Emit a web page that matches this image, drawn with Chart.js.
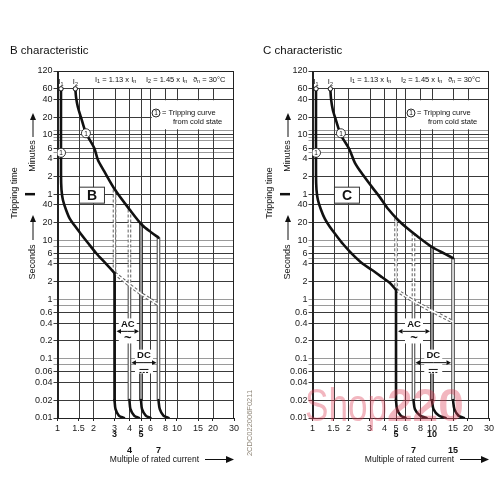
<!DOCTYPE html>
<html><head><meta charset="utf-8">
<script src="https://cdn.jsdelivr.net/npm/chart.js@4"></script>
<style>
html,body{margin:0;padding:0;background:#fff;width:500px;height:500px;overflow:hidden}
canvas{position:absolute;top:0}
#cb{left:0}
#cc{left:255px}
</style></head><body>
<canvas id="cb" width="255" height="500"></canvas>
<canvas id="cc" width="245" height="500"></canvas>
<script>
const FONT = '"Liberation Sans", Arial, Helvetica, sans-serif';

// ---- axes ----
const xTickValues = [1,1.5,2,3,4,5,6,8,10,15,20,30];
const xTickLabels = ['1','1.5','2','3','4','5','6','8','10','15','20','30'];
const xGridValues = [1.5,2,3,4,5,6,8,10,15,20];
// tripping time in seconds (minute ticks = minutes x 60)
const yTickValues = [7200,3600,2400,1200,720,600,540,480,360,300,240,120,60,40,20,10,8,6,5,4,2,1,0.8,0.6,0.4,0.2,0.1,0.08,0.06,0.04,0.02,0.01];
const yTickLabels = ['120','60','40','20','','10','','','6','','4','2','1','40','20','10','','6','','4','2','1','','0.6','0.4','0.2','0.1','','0.06','0.04','0.02','0.01'];
const yLightLines = [720,540,480,300,10,8,5,1,0.8,0.1,0.08];

// ---- B characteristic ----
const bLowerLimit = [[1.07,3600],[1.07,126],[1.08,71],[1.11,48],[1.18,32.5],[1.27,22.9],[1.4,17.4],[1.57,12.8],[1.8,9.0],[2.1,6.1],[2.55,4.0],[3,2.8]];
const bUpperLimit = [[1.41,3600],[1.43,2600],[1.48,1780],[1.57,1200],[1.73,650],[2.03,360],[2.18,226],[2.45,148],[3.03,71],[4.04,32.4],[5.1,18.1],[6.18,13.3],[7,11.1]];
const bAcLowDashed = [[3,72],[3,2.8]];
const bAcLowSolid = [[3,2.8],[3,0.02]];
const bDcLowDashed = [[4,33],[4,1.75]];
const bDcLowSolid = [[4,1.75],[4,0.02]];
const bAcHighSolid = [[5,19.4],[5,0.02]];
const bDcHighSolid = [[7,11.1],[7,0.02]];
const bInstantDashed = [[3,2.8],[4,1.75],[5,1.25],[7,0.82]];
const bFeet = [
  [[3,0.02],[3.06,0.0141],[3.26,0.011],[3.6,0.01]],
  [[4,0.02],[4.08,0.0141],[4.38,0.011],[4.8,0.01]],
  [[5,0.02],[5.1,0.0141],[5.48,0.011],[6,0.01]],
  [[7,0.02],[7.18,0.0141],[7.7,0.011],[8.5,0.01]]
];
const bAcRange = [3,5];
const bDcRange = [4,7];

// ---- C characteristic ----
const cLowerLimit = [[1.07,3600],[1.07,126],[1.08,71],[1.11,48],[1.18,32.5],[1.27,22.9],[1.4,16.7],[1.57,12.3],[1.8,8.65],[2.14,5.9],[2.6,4.1],[3.15,3.15],[3.8,2.4],[4.45,1.9],[5,1.45]];
const cUpperLimit = [[1.41,3600],[1.43,2420],[1.48,1580],[1.57,1070],[1.73,600],[2.03,347],[2.27,201],[2.65,126],[3.15,79],[3.67,53],[4.3,33.7],[5.2,22],[6.18,16.1],[7.5,11.8],[10,7.7],[12.85,5.9],[15,5]];
const cAcLowDashed = [[5,23.5],[5,1.45]];
const cAcLowSolid = [[5,1.45],[5,0.02]];
const cDcLowDashed = [[7,13.2],[7,0.94]];
const cDcLowSolid = [[7,0.94],[7,0.02]];
const cAcHighSolid = [[10,7.7],[10,0.02]];
const cDcHighSolid = [[15,5],[15,0.02]];
const cInstantDashed = [[5,1.45],[7,0.94],[10,0.64],[15,0.42]];
const cFeet = [
  [[5,0.02],[5.1,0.0141],[5.48,0.011],[6,0.01]],
  [[7,0.02],[7.2,0.0141],[7.94,0.011],[9,0.01]],
  [[10,0.02],[10.3,0.0141],[11.4,0.011],[13,0.01]],
  [[15,0.02],[15.4,0.0141],[16.6,0.011],[18.5,0.01]]
];
const cAcRange = [5,10];
const cDcRange = [7,15];

const curveStarts = [[1.07,3600],[1.41,3600]];
const coldStateMarks = [[1.07,300],[1.73,640]];

// ---- helpers ----
function pts(a){ return a.map(p => ({x:p[0], y:p[1]})); }
function line(a, o){ return Object.assign({data:pts(a), showLine:true, pointRadius:0, pointHoverRadius:0, fill:false, tension:0, borderCapStyle:'butt'}, o); }
function thick(a){ return line(a, {borderColor:'#111', borderWidth:2.6, tension:0.3, order:1, borderCapStyle:'round', borderJoinStyle:'round'}); }
function twin(a, kind){
  const o = {dash:{c:'#666',w:3.6,d:[3,2],i:1.5}, solid:{c:'#444',w:3.6,d:[],i:1.5}, dark:{c:'#111',w:3.6,d:[],i:1.1}}[kind];
  return [line(a,{borderColor:o.c,borderWidth:o.w,borderDash:o.d,order:3}), line(a,{borderColor:'#fff',borderWidth:o.i,order:2})];
}
function rich(ctx, x0, y0, parts, size){
  let cx = x0;
  ctx.textAlign = 'left';
  for (const [t, sub] of parts){
    ctx.font = (sub ? size*0.72 : size) + 'px ' + FONT;
    ctx.fillText(t, cx, y0 + (sub ? size*0.32 : 0));
    cx += ctx.measureText(t).width;
  }
}
function arrow(ctx, x1, y1, x2, y2, head, half){
  const ang = Math.atan2(y2-y1, x2-x1);
  const bx = x2 - head*Math.cos(ang), by = y2 - head*Math.sin(ang);
  ctx.beginPath(); ctx.moveTo(x1,y1); ctx.lineTo(bx,by); ctx.stroke();
  ctx.beginPath(); ctx.moveTo(x2,y2);
  ctx.lineTo(bx - half*Math.sin(ang), by + half*Math.cos(ang));
  ctx.lineTo(bx + half*Math.sin(ang), by - half*Math.cos(ang));
  ctx.closePath(); ctx.fill();
}
function vtext(ctx, t, x, y){
  ctx.save(); ctx.translate(x, y); ctx.rotate(-Math.PI/2);
  ctx.textAlign = 'center'; ctx.textBaseline = 'middle'; ctx.fillText(t, 0, 0); ctx.restore();
}

const headerParts = [
  [['I',0],['1',1],[' = 1.13 x I',0],['n',1]],
  [['I',0],['2',1],[' = 1.45 x I',0],['n',1]],
  [['\u03D1',0],['n',1],[' = 30\u00B0C',0]]
];
const headerX = [95, 146, 193];

function panelPlugin(P){
  return {
    id: 'panelDecor',
    beforeDatasetsDraw(chart){
      const {ctx, chartArea:a, scales:{x, y}} = chart;
      ctx.save();
      ctx.strokeStyle = '#3a3a3a'; ctx.lineWidth = 1;
      const gTop = y.getPixelForValue(3600);
      ctx.beginPath();
      for (const v of xGridValues){ const px = Math.round(x.getPixelForValue(v)) + 0.5; ctx.moveTo(px, gTop); ctx.lineTo(px, a.bottom); }
      ctx.stroke();
      // legend box knock-out
      const bx0 = x.getPixelForValue(6.15), bx1 = x.getPixelForValue(30);
      const by0 = y.getPixelForValue(2400), by1 = y.getPixelForValue(720);
      ctx.fillStyle = '#fff';
      ctx.fillRect(bx0, by0 + 1, bx1 - bx0 - 1, by1 - by0 - 2);
      // frame
      ctx.strokeStyle = '#222';
      const L = Math.round(a.left) + 0.5, T = Math.round(a.top) + 0.5, R = Math.round(a.right) - 0.5, B = Math.round(a.bottom) + 0.5;
      ctx.beginPath(); ctx.moveTo(L, T); ctx.lineTo(R, T); ctx.lineTo(R, B); ctx.lineTo(L, B); ctx.closePath(); ctx.stroke();
      ctx.restore();
    },
    afterDatasetsDraw(chart){
      const {ctx, scales:{x, y}} = chart;
      ctx.save();
      ctx.fillStyle = '#111'; ctx.strokeStyle = '#111'; ctx.textBaseline = 'middle';
      // circled 1 on curves
      ctx.font = '6.5px ' + FONT; ctx.textAlign = 'center';
      for (const p of coldStateMarks) ctx.fillText('1', x.getPixelForValue(p[0]), y.getPixelForValue(p[1]) + 0.5);
      // I1 / I2 labels
      const ly = y.getPixelForValue(3600) - 7;
      rich(ctx, x.getPixelForValue(curveStarts[0][0]) - 2.5, ly, [['I',0],['1',1]], 7.5);
      rich(ctx, x.getPixelForValue(curveStarts[1][0]) - 2.5, ly, [['I',0],['2',1]], 7.5);
      // header
      headerParts.forEach((parts, i) => rich(ctx, headerX[i], 79.5, parts, 7.5));
      // legend
      ctx.lineWidth = 0.9;
      ctx.beginPath(); ctx.arc(156, 113, 4, 0, Math.PI*2); ctx.stroke();
      ctx.font = '6.5px ' + FONT; ctx.textAlign = 'center'; ctx.fillText('1', 156, 113.5);
      ctx.font = '7.5px ' + FONT; ctx.textAlign = 'left';
      ctx.fillText('= Tripping curve', 162, 113);
      ctx.fillText('from cold state', 173, 121.5);
      // characteristic letter box
      const cx = x.getPixelForValue(2) - 1.5, cy = y.getPixelForValue(60) + 1;
      ctx.fillStyle = '#fff'; ctx.fillRect(cx - 12.5, cy - 8, 25, 16);
      ctx.lineWidth = 1; ctx.strokeStyle = '#333'; ctx.strokeRect(cx - 12.5, cy - 8, 25, 16);
      ctx.fillStyle = '#111'; ctx.font = 'bold 14px ' + FONT; ctx.textAlign = 'center';
      ctx.fillText(P.letter, cx, cy + 0.5);
      // AC range
      ctx.lineWidth = 1; ctx.strokeStyle = '#111';
      const a0 = x.getPixelForValue(P.ac[0]) + 2, a1 = x.getPixelForValue(P.ac[1]) - 2, am = (a0 + a1)/2;
      const ay = y.getPixelForValue(0.29), aty = y.getPixelForValue(0.38), awy = y.getPixelForValue(0.22);
      ctx.fillStyle = '#fff'; ctx.fillRect(am - 9, aty - 6, 18, awy - aty + 11);
      ctx.fillStyle = '#111';
      arrow(ctx, am, ay, a0, ay, 4.5, 2.3); arrow(ctx, am, ay, a1, ay, 4.5, 2.3);
      ctx.font = 'bold 9.5px ' + FONT; ctx.fillText('AC', am, aty);
      ctx.font = 'bold 13px ' + FONT; ctx.fillText('~', am, awy);
      // DC range
      const d0 = x.getPixelForValue(P.dc[0]) + 2, d1 = x.getPixelForValue(P.dc[1]) - 2, dm = (d0 + d1)/2;
      const dy = y.getPixelForValue(0.086), dty = y.getPixelForValue(0.113), sy = y.getPixelForValue(0.066);
      ctx.fillStyle = '#fff'; ctx.fillRect(dm - 9, dty - 6, 18, sy - dty + 10);
      ctx.fillStyle = '#111';
      arrow(ctx, dm, dy, d0, dy, 4.5, 2.3); arrow(ctx, dm, dy, d1, dy, 4.5, 2.3);
      ctx.font = 'bold 9.5px ' + FONT; ctx.fillText('DC', dm, dty);
      ctx.beginPath(); ctx.moveTo(dm - 4.5, sy); ctx.lineTo(dm + 4.5, sy); ctx.stroke();
      ctx.beginPath();
      for (let k = 0; k < 3; k++){ ctx.moveTo(dm - 4.5 + k*3.3, sy + 3); ctx.lineTo(dm - 2.5 + k*3.3, sy + 3); }
      ctx.stroke();
      ctx.restore();
    },
    afterDraw(chart){
      const {ctx, scales:{x, y}} = chart;
      ctx.save();
      ctx.fillStyle = '#111'; ctx.strokeStyle = '#111'; ctx.textBaseline = 'alphabetic';
      // title
      ctx.font = '11.5px ' + FONT; ctx.textAlign = 'left';
      ctx.fillText(P.title, P.titleX, 53.5);
      // left axis titles
      ctx.font = '9px ' + FONT;
      vtext(ctx, 'Tripping time', 15, 193);
      vtext(ctx, 'Minutes', 33, 156);
      vtext(ctx, 'Seconds', 33, 262);
      ctx.lineWidth = 1;
      arrow(ctx, 33, 137, 33, 113, 7, 3);
      arrow(ctx, 33, 240, 33, 215, 7, 3);
      ctx.lineWidth = 2.5;
      const my = y.getPixelForValue(60);
      ctx.beginPath(); ctx.moveTo(25, my); ctx.lineTo(35, my); ctx.stroke();
      // bold limit labels under x axis
      ctx.font = 'bold 9px ' + FONT; ctx.textAlign = 'center'; ctx.textBaseline = 'middle';
      for (const v of P.row1) ctx.fillText(String(v), x.getPixelForValue(v), 435);
      for (const v of P.row2) ctx.fillText(String(v), x.getPixelForValue(v), 450.5);
      // x axis title
      ctx.font = '8.5px ' + FONT;
      ctx.fillText('Multiple of rated current', 154.5, 459.5);
      ctx.lineWidth = 1;
      arrow(ctx, 205, 459.5, 234, 459.5, 8, 3.5);
      if (P.code){
        ctx.fillStyle = '#8f8678'; ctx.font = '7.5px ' + FONT;
        vtext(ctx, P.code, 250, 423);
      }
      if (P.watermark){
        ctx.fillStyle = 'rgba(222,62,86,0.38)'; ctx.textAlign = 'left'; ctx.textBaseline = 'alphabetic';
        ctx.font = '46px ' + FONT; ctx.fillText('Shop', 50, 421, 82);
        ctx.font = 'bold 46px ' + FONT; ctx.fillText('220', 132, 421, 88);
      }
      ctx.restore();
    }
  };
}

function makePanel(id, P, padRight){
  const datasets = [
    ...twin(P.instantDashed, 'dash'),
    ...twin(P.acLowDashed, 'dash'),
    ...twin(P.dcLowDashed, 'dash'),
    ...twin(P.dcLowSolid, 'solid'),
    ...twin(P.acHighSolid, 'dark'),
    ...twin(P.dcHighSolid, 'solid'),
    thick(P.acLowSolid),
    thick(P.lowerLimit),
    thick(P.upperLimit),
    ...P.feet.map(thick),
    {data: pts(curveStarts), showLine:false, pointRadius:2.2, pointBackgroundColor:'#fff', pointBorderColor:'#111', pointBorderWidth:1, order:0},
    {data: pts(coldStateMarks), showLine:false, pointRadius:4.5, pointBackgroundColor:'#fff', pointBorderColor:'#222', pointBorderWidth:0.9, order:0}
  ];
  return new Chart(document.getElementById(id), {
    type: 'scatter',
    data: {datasets},
    options: {
      responsive: false, animation: false, devicePixelRatio: 1,
      layout: {padding: {left: 0, right: padRight, top: 71, bottom: 0}},
      plugins: {legend: {display: false}, tooltip: {enabled: false}},
      events: [],
      scales: {
        x: {
          type: 'logarithmic', min: 1, max: 30,
          afterBuildTicks: s => { s.ticks = xTickValues.map(v => ({value: v})); },
          afterFit: s => { s.height = 82; },
          ticks: {autoSkip: false, maxRotation: 0, padding: 2, color: '#1a1a1a', font: {family: FONT, size: 9},
                  callback: v => { const i = xTickValues.indexOf(v); return i >= 0 ? xTickLabels[i] : ''; }},
          grid: {drawOnChartArea: false, drawTicks: true, tickLength: 3, color: '#222'},
          border: {color: '#222', width: 1}
        },
        y: {
          type: 'logarithmic', min: 0.01, max: 7200,
          afterBuildTicks: s => { s.ticks = yTickValues.map(v => ({value: v})); },
          afterFit: s => { s.width = 57.5; },
          ticks: {autoSkip: false, padding: 1, color: '#1a1a1a', font: {family: FONT, size: 9},
                  callback: v => { const i = yTickValues.indexOf(v); return i >= 0 ? yTickLabels[i] : ''; }},
          grid: {drawTicks: true, tickLength: 4, lineWidth: 1,
                 color: c => (c.tick && yLightLines.includes(c.tick.value)) ? '#9a9a9a' : '#3a3a3a'},
          border: {color: '#222', width: 1}
        }
      }
    },
    plugins: [panelPlugin(P)]
  });
}

makePanel('cb', {
  letter: 'B', title: 'B characteristic', titleX: 10,
  lowerLimit: bLowerLimit, upperLimit: bUpperLimit,
  acLowDashed: bAcLowDashed, acLowSolid: bAcLowSolid, dcLowDashed: bDcLowDashed, dcLowSolid: bDcLowSolid,
  acHighSolid: bAcHighSolid, dcHighSolid: bDcHighSolid, instantDashed: bInstantDashed, feet: bFeet,
  ac: bAcRange, dc: bDcRange, row1: [bAcRange[0], bAcRange[1]], row2: [bDcRange[0], bDcRange[1]],
  code: '2CDC022006F0211'
}, 21);

makePanel('cc', {
  letter: 'C', title: 'C characteristic', titleX: 8,
  lowerLimit: cLowerLimit, upperLimit: cUpperLimit,
  acLowDashed: cAcLowDashed, acLowSolid: cAcLowSolid, dcLowDashed: cDcLowDashed, dcLowSolid: cDcLowSolid,
  acHighSolid: cAcHighSolid, dcHighSolid: cDcHighSolid, instantDashed: cInstantDashed, feet: cFeet,
  ac: cAcRange, dc: cDcRange, row1: [cAcRange[0], cAcRange[1]], row2: [cDcRange[0], cDcRange[1]],
  watermark: true
}, 11);
</script>
</body></html>
